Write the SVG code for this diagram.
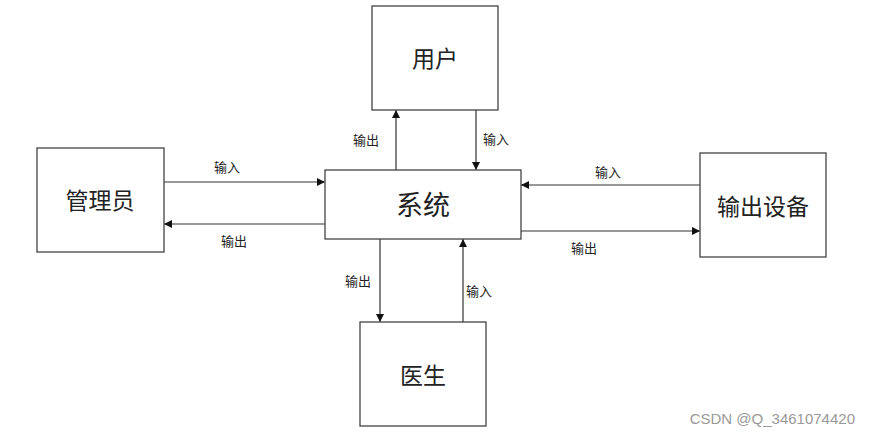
<svg xmlns="http://www.w3.org/2000/svg" width="870" height="437" viewBox="0 0 870 437">
<style>
.box{fill:#fff;stroke:#444;stroke-width:1.3}
.t{font-family:"Noto Sans CJK SC","Liberation Sans",sans-serif;fill:#222;text-anchor:middle}
.n{font-size:23px}
.l{font-size:13px}
.c{fill:none;stroke:#333;stroke-width:1.2;marker-end:url(#ah)}
</style>
<defs>
<marker id="ah" viewBox="0 0 10 10" refX="10" refY="5" markerWidth="8" markerHeight="8" markerUnits="userSpaceOnUse" orient="auto">
<path d="M0,0 L10,5 L0,10 z" fill="#111"/>
</marker>
</defs>
<rect width="870" height="437" fill="#fff"/>
<g id="connectors">
<line class="c" x1="396" y1="170" x2="396" y2="110"/>
<line class="c" x1="476" y1="110" x2="476" y2="170"/>
<line class="c" x1="164" y1="182" x2="325" y2="182"/>
<line class="c" x1="325" y1="224" x2="164" y2="224"/>
<line class="c" x1="700" y1="185" x2="521" y2="185"/>
<line class="c" x1="521" y1="231" x2="700" y2="231"/>
<line class="c" x1="380" y1="239" x2="380" y2="322"/>
<line class="c" x1="463" y1="322" x2="463" y2="239"/>
<text class="t l" x="366" y="145">输出</text>
<text class="t l" x="496" y="144">输入</text>
<text class="t l" x="227" y="172">输入</text>
<text class="t l" x="234" y="246">输出</text>
<text class="t l" x="608" y="177">输入</text>
<text class="t l" x="584" y="253">输出</text>
<text class="t l" x="358" y="286">输出</text>
<text class="t l" x="479" y="296">输入</text>
</g>
<g id="user"><rect class="box" x="372" y="6" width="126" height="104"/><text class="t n" x="435" y="67">用户</text></g>
<g id="system"><rect class="box" x="325" y="170" width="196" height="69"/><text class="t" style="font-size:27px" x="423" y="215">系统</text></g>
<g id="admin"><rect class="box" x="37" y="148" width="127" height="104"/><text class="t n" x="100" y="209">管理员</text></g>
<g id="device"><rect class="box" x="700" y="153" width="126" height="104"/><text class="t n" x="763" y="215">输出设备</text></g>
<g id="doctor"><rect class="box" x="360" y="322" width="126" height="104"/><text class="t n" x="423" y="384">医生</text></g>
<text x="855" y="424" font-family="Liberation Sans,sans-serif" font-size="15" fill="#999" text-anchor="end">CSDN @Q_3461074420</text>
</svg>
